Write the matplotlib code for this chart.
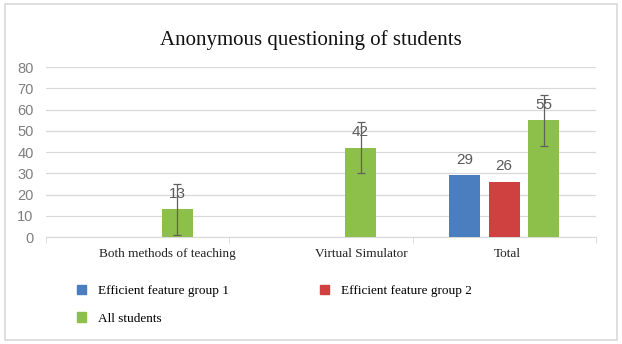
import matplotlib.pyplot as plt
import matplotlib.transforms as mtransforms
import numpy as np
from matplotlib.patches import Rectangle, Patch

categories = ["Both methods of teaching", "Virtual Simulator", "Total"]
group1 = [0, 0, 29]
group2 = [0, 0, 26]
all_students = [13, 42, 55]
all_err = [12, 12, 12]
series_names = ["Efficient feature group 1", "Efficient feature group 2", "All students"]
colors = ["#4a7ebf", "#cf4141", "#8cc04b"]
yticks = [0, 10, 20, 30, 40, 50, 60, 70, 80]

fig = plt.figure(figsize=(6.22, 3.44), dpi=100)
fig.patches.append(Rectangle((0.008, 0.012), 0.984, 0.975, transform=fig.transFigure,
                             fill=False, edgecolor="#d9d9d9", linewidth=1.2))
ax = fig.add_axes([0.074, 0.311, 0.884, 0.494])

x = np.arange(len(categories))
w = 0.17
off = 0.216
data = [group1, group2, all_students]
for i, (vals, c) in enumerate(zip(data, colors)):
    pos = x + (i - 1) * off
    err = all_err if i == 2 else None
    ax.bar(pos, vals, w, color=c, yerr=err, zorder=3,
           error_kw=dict(ecolor="#606060", elinewidth=0.9, capsize=3.2, capthick=0.9, zorder=6))
    for p, v in zip(pos, vals):
        if v:
            ax.annotate(str(v), (p, v), xytext=(0, 6), textcoords="offset points",
                        ha="center", va="bottom", fontsize=11, color="#595959",
                        family="Liberation Sans", zorder=5)

ax.set_xlim(-0.5, 2.5)
ax.set_ylim(0, 80)
ax.set_yticks(yticks)
ax.grid(axis="y", color="#d9d9d9", linewidth=0.9, zorder=0)
for s in ["top", "right", "left"]:
    ax.spines[s].set_visible(False)
ax.spines["bottom"].set_color("#d9d9d9")
ax.tick_params(axis="y", length=0, pad=9, labelsize=10.5, labelcolor="#7f7f7f")
for t in ax.get_yticklabels():
    t.set_family("Liberation Sans")
ax.set_xticks(x)
ax.set_xticklabels(categories, family="Liberation Serif", fontsize=9.5, color="#222222")
ax.tick_params(axis="x", length=0, pad=8)
ax.set_xticks([-0.5, 0.5, 1.5, 2.5], minor=True)
ax.tick_params(axis="x", which="minor", length=4, color="#d9d9d9")
# category labels in the reference sit a bit right of the group centres
for lab, dx in zip(ax.get_xticklabels(), [0.30, 0.40, 0.03]):
    lab.set_transform(lab.get_transform() + mtransforms.ScaledTranslation(dx, 0, fig.dpi_scale_trans))

fig.text(0.5, 0.884, "Anonymous questioning of students", ha="center", va="center",
         family="Liberation Serif", fontsize=15, color="#111111")

handles = [Patch(color=c) for c in colors]
order = [0, 2, 1]
fig.legend([handles[k] for k in order], [series_names[k] for k in order],
           loc="upper left", bbox_to_anchor=(0.115, 0.187), ncol=2, frameon=False,
           prop={"family": "Liberation Serif", "size": 9.5},
           handlelength=0.7, handleheight=0.7, handletextpad=0.9,
           columnspacing=6.9, labelspacing=1.15, borderaxespad=0)

fig.savefig("out.png", dpi=100)
